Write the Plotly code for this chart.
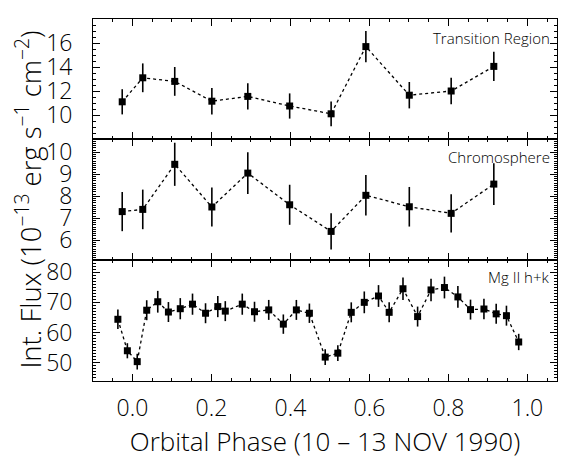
import plotly.graph_objects as go
from plotly.subplots import make_subplots

# Transition Region
tr_phase = [-0.026, 0.026, 0.107, 0.201, 0.292, 0.398, 0.503, 0.591, 0.701, 0.807, 0.915]
tr_flux = [11.1, 13.1, 12.8, 11.15, 11.55, 10.75, 10.1, 15.7, 11.65, 12.0, 14.05]
tr_err = [1.05, 1.2, 1.2, 1.1, 1.1, 1.05, 1.03, 1.3, 1.1, 1.1, 1.22]

# Chromosphere
ch_phase = [-0.026, 0.026, 0.107, 0.201, 0.292, 0.398, 0.503, 0.591, 0.701, 0.807, 0.915]
ch_flux = [7.30, 7.40, 9.45, 7.51, 9.05, 7.61, 6.40, 8.04, 7.52, 7.22, 8.55]
ch_err = [0.89, 0.9, 0.98, 0.89, 0.95, 0.91, 0.82, 0.92, 0.9, 0.87, 0.95]

# Mg II h+k
mg_phase = [-0.037, -0.013, 0.012, 0.036, 0.064, 0.091, 0.121, 0.152, 0.185, 0.216,
            0.235, 0.278, 0.309, 0.345, 0.382, 0.415, 0.448, 0.488, 0.520, 0.554,
            0.587, 0.623, 0.650, 0.685, 0.722, 0.756, 0.790, 0.824, 0.856, 0.890,
            0.921, 0.947, 0.978]
mg_flux = [64.4, 54.0, 50.4, 67.4, 70.2, 66.8, 67.9, 69.4, 66.4, 68.6,
           67.1, 69.4, 66.9, 67.5, 62.8, 67.5, 66.4, 51.9, 53.2, 66.7,
           70.0, 72.1, 66.7, 74.5, 65.3, 74.1, 74.9, 71.8, 67.6, 67.8,
           66.2, 65.6, 56.9]
mg_err = [3.2, 2.5, 2.6, 3.3, 3.6, 3.3, 3.5, 3.5, 3.3, 3.5,
          3.3, 3.5, 3.3, 3.3, 3.2, 3.3, 3.2, 2.6, 2.6, 3.3,
          3.6, 3.6, 3.3, 3.7, 3.3, 3.7, 3.6, 3.6, 3.3, 3.4,
          3.3, 3.3, 2.7]

# tick labels
x_ticks = [0.0, 0.2, 0.4, 0.6, 0.8, 1.0]
tr_ticks = [10, 12, 14, 16]
ch_ticks = [6, 7, 8, 9, 10]
mg_ticks = [50, 60, 70, 80]

labels = ["Transition Region", "Chromosphere", "Mg II h+k"]

fig = make_subplots(rows=3, cols=1, shared_xaxes=True, vertical_spacing=0)

series = [(tr_phase, tr_flux, tr_err), (ch_phase, ch_flux, ch_err), (mg_phase, mg_flux, mg_err)]
for i, (x, y, e) in enumerate(series, start=1):
    fig.add_trace(go.Scatter(
        x=x, y=y, mode="lines+markers",
        line=dict(color="black", width=1.3, dash="dot"),
        marker=dict(symbol="square", size=7, color="black"),
        error_y=dict(type="data", array=e, visible=True, color="black", thickness=1.6, width=0),
        showlegend=False,
    ), row=i, col=1)

# page body has an 8px default margin, so the figure is drawn 8px in from the corner
W, H = 561, 453
top, bottom, left, right = 11, 80, 85, 12
ph = H - top - bottom
pw = W - left - right
d1 = (373 - 131) / ph
d2 = (373 - 252) / ph

FAM = "Open Sans, DejaVu Sans, sans-serif"
font = dict(family=FAM, color="black", weight=300)

common_x = dict(range=[-0.1, 1.075], showline=True, linecolor="black", linewidth=1,
                mirror="allticks", ticks="inside", ticklen=7, tickcolor="black",
                tickvals=x_ticks, showgrid=False, zeroline=False, automargin=False,
                minor=dict(dtick=0.05, ticks="inside", ticklen=3, tickcolor="black"))
fig.update_xaxes(**common_x)
fig.update_xaxes(showticklabels=False, row=1, col=1)
fig.update_xaxes(showticklabels=False, row=2, col=1)
fig.update_xaxes(tickformat=".1f", tickfont=dict(size=23, **font), ticklabelstandoff=6,
                 title=dict(text="Orbital Phase (10 – 13 NOV 1990)", font=dict(size=26, **font), standoff=0),
                 row=3, col=1)

common_y = dict(showline=True, linecolor="black", linewidth=1, mirror="allticks",
                ticks="inside", ticklen=7, tickcolor="black", showgrid=False, zeroline=False,
                automargin=False, tickfont=dict(size=23, **font), ticklabelstandoff=15)
fig.update_yaxes(**common_y)
fig.update_yaxes(range=[8, 18], tickvals=tr_ticks,
                 minor=dict(dtick=0.5, ticks="inside", ticklen=3, tickcolor="black"),
                 domain=[d1, 1], row=1, col=1)
fig.update_yaxes(range=[5.1, 10.6], tickvals=ch_ticks,
                 minor=dict(dtick=0.1, ticks="inside", ticklen=3, tickcolor="black"),
                 domain=[d2, d1],
                 title=dict(text="Int. Flux (10<sup>−13</sup> erg s<sup>−1</sup> cm<sup>−2</sup>)",
                            font=dict(size=27.5, **font), standoff=3),
                 row=2, col=1)
fig.update_yaxes(range=[44, 84], tickvals=mg_ticks,
                 minor=dict(dtick=1, ticks="inside", ticklen=3, tickcolor="black"),
                 domain=[0, d2], row=3, col=1)

ann_y = [1 - 19 / ph, d1 - 18 / ph, d2 - 17 / ph]
for lab, yy in zip(labels, ann_y):
    fig.add_annotation(text=lab, xref="paper", yref="paper", x=1 - 5 / pw, y=yy,
                       xanchor="right", yanchor="middle", showarrow=False,
                       font=dict(size=15, **font))

fig.update_layout(width=W, height=H, margin=dict(l=left, r=right, t=top, b=bottom),
                  plot_bgcolor="white", paper_bgcolor="white")

fig.write_html("out.html")
